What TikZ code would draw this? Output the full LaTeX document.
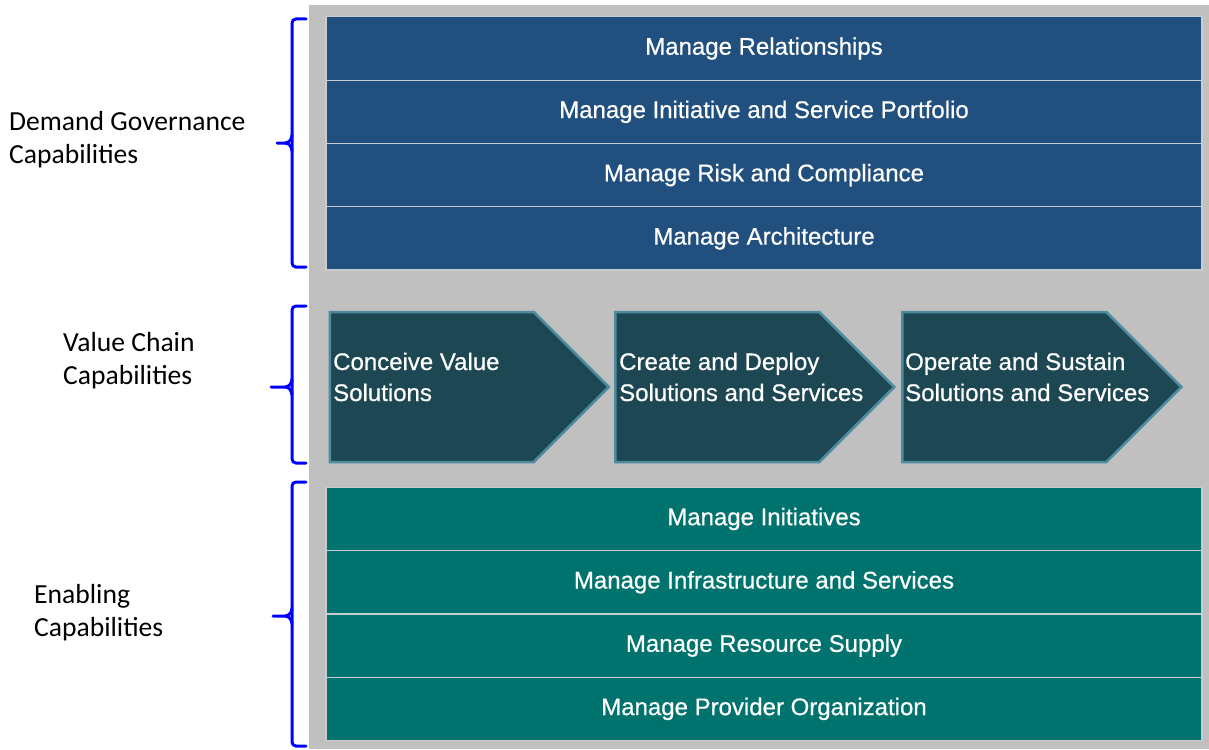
\documentclass[tikz,border=0pt]{standalone}
\usepackage{fontspec}
\setmainfont{Liberation Sans}
\newfontfamily\boxfont[FakeBold=0.6]{Liberation Sans}
\newfontfamily\calibri{Carlito}
\usetikzlibrary{shapes.symbols}
\definecolor{panelgray}{RGB}{192,192,192}
\definecolor{rowblue}{RGB}{33,80,127}
\definecolor{rowgreen}{RGB}{0,115,111}
\definecolor{sepgray}{RGB}{200,204,208}
\definecolor{chevfill}{RGB}{29,72,83}
\definecolor{chevborder}{RGB}{76,140,158}
\definecolor{bracecol}{RGB}{0,0,255}
\begin{document}
\begin{tikzpicture}[x=1pt,y=-1pt,
  rowbox/.style={draw=sepgray, line width=1.2pt, minimum width=876pt, minimum height=63.3pt,
    inner sep=0pt, text=white, font=\boxfont\fontsize{24}{28}\selectfont},
  bluerow/.style={rowbox, fill=rowblue},
  greenrow/.style={rowbox, fill=rowgreen},
  chev/.style={signal, signal to=east, signal from=nowhere, signal pointer angle=90,
    minimum width=279pt, minimum height=150pt, inner sep=0pt, anchor=west,
    fill=chevfill, draw=chevborder, line width=2.5pt},
  chevtext/.style={anchor=base west, align=left, inner sep=0pt, text=white,
    font=\boxfont\fontsize{24}{31}\selectfont},
  brace/.style={draw=bracecol, line width=3pt, rounded corners=4pt, line cap=round},
  bracetip/.style={draw=bracecol, line width=3pt, line cap=round},
  sidelabel/.style={anchor=base west, align=left, inner sep=0pt,
    font=\calibri\fontsize{27.6}{33}\selectfont}]
\useasboundingbox (0,0) rectangle (1209,749);
% panel
\fill[panelgray] (309,5) rectangle (1209,749);
% demand governance rows
\node[bluerow] (r1) at (764,48.5) {Manage Relationships};
\node[bluerow] (r2) at (764,111.8) {Manage Initiative and Service Portfolio};
\node[bluerow] (r3) at (764,175.1) {Manage Risk and Compliance};
\node[bluerow] (r4) at (764,238.4) {Manage Architecture};
% value chain
\node[chev] (c1) at (328.5,387) {};
\node[chev] (c2) at (614,387) {};
\node[chev] (c3) at (901,387) {};
\node[chevtext] (t1) at (333,401) {Conceive Value\\Solutions};
\node[chevtext] (t2) at (619,401) {Create and Deploy\\Solutions and Services};
\node[chevtext] (t3) at (905,401) {Operate and Sustain\\Solutions and Services};
% enabling rows
\node[greenrow] (g1) at (764,519) {Manage Initiatives};
\node[greenrow] (g2) at (764,582.3) {Manage Infrastructure and Services};
\node[greenrow] (g3) at (764,645.6) {Manage Resource Supply};
\node[greenrow] (g4) at (764,708.9) {Manage Provider Organization};
% braces
\coordinate (b1t) at (306,19);
\coordinate (b1m) at (277,143);
\coordinate (b1b) at (306,267);
\draw[brace] (b1t) -- (292,19) -- (292,267) -- (b1b);
\draw[bracetip] (292,135) to[out=-90,in=0] (285,143) -- (b1m);
\draw[bracetip] (292,151) to[out=90,in=0] (285,143);
\coordinate (b2t) at (306,306);
\coordinate (b2m) at (271,387);
\coordinate (b2b) at (306,463);
\draw[brace] (b2t) -- (292,306) -- (292,463) -- (b2b);
\draw[bracetip] (292,379) to[out=-90,in=0] (285,387) -- (b2m);
\draw[bracetip] (292,395) to[out=90,in=0] (285,387);
\coordinate (b3t) at (306,482);
\coordinate (b3m) at (273,616);
\coordinate (b3b) at (306,746);
\draw[brace] (b3t) -- (292,482) -- (292,746) -- (b3b);
\draw[bracetip] (292,608) to[out=-90,in=0] (285,616) -- (b3m);
\draw[bracetip] (292,624) to[out=90,in=0] (285,616);
% side labels
\node[sidelabel] (l1) at (9,163) {Demand Governance\\Capabilities};
\node[sidelabel] (l2) at (63,384) {Value Chain\\Capabilities};
\node[sidelabel] (l3) at (34,636) {Enabling\\Capabilities};
\end{tikzpicture}
\end{document}
